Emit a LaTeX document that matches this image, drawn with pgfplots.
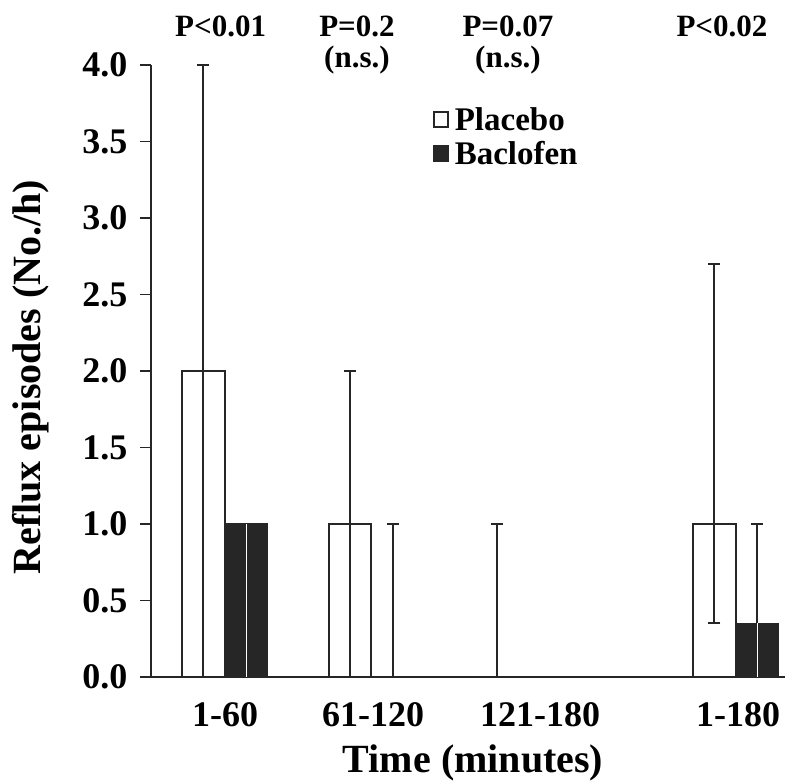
\documentclass[border=0pt]{standalone}
\usepackage{fontspec}
\setmainfont{Liberation Serif}
\usepackage{pgfplots}
\pgfplotsset{compat=1.18}
\begin{document}
\begin{tikzpicture}[x=1pt,y=1pt]
\useasboundingbox (-151,-107) rectangle (634,677);
\begin{axis}[
  at={(0pt,0pt)}, anchor=south west,
  scale only axis, width=634pt, height=612pt,
  xmin=-0.505, xmax=3.82, ymin=0, ymax=4,
  axis x line*=bottom, axis y line*=left,
  axis line style={line width=1.8pt, black!85},
  xtick={0,1.01,2.15,3.5}, xticklabels={1-60,61-120,121-180,1-180},
  x tick style={draw=none},
  ytick={0,0.5,...,4}, tick align=outside, major tick length=11pt,
  y tick style={line width=1.4pt, black!85},
  yticklabel style={xshift=-9pt, /pgf/number format/.cd, fixed, fixed zerofill, precision=1},
  xticklabel style={yshift=-11pt},
  tick label style={font=\fontsize{36}{40}\selectfont\bfseries},
  /pgf/number format/assume math mode=true,
  xlabel={Time (minutes)}, ylabel={Reflux episodes (No./h)},
  every axis x label/.style={at={(axis description cs:0.508,-0.1405)}, anchor=center},
  every axis y label/.style={at={(axis description cs:-0.189,0.49)}, rotate=90, anchor=center},
  label style={font=\fontsize{40}{44}\selectfont\bfseries},
  clip=false,
  legend style={at={(rel axis cs:0.44,0.935)}, anchor=north west, draw=none, fill=none,
    font=\fontsize{33}{36}\selectfont\bfseries, row sep=7pt,
    nodes={inner xsep=6pt, inner ysep=1pt}},
  legend cell align=left,
  legend image code/.code={\draw[#1, line width=1.6pt] (0pt,-7pt) rectangle (14pt,8pt);},
]
% Placebo (x = category - 0.147)
\addplot[ybar, bar width=0.29, bar shift=0, fill=white, draw=black!85, line width=1.8pt,
  error bars/.cd, y dir=both, y explicit,
  error bar style={line width=2pt, black!85},
  error mark options={rotate=90, black!85, mark size=6pt, line width=2pt}]
  coordinates {(-0.147,2) += (0,2) -= (0,2)
               (0.853,1) += (0,1) -= (0,1)
               (1.853,0) += (0,1) -= (0,0)
               (3.338,1) += (0,1.7) -= (0,0.65)};
\addlegendentry{Placebo}
% Baclofen (x = category + 0.147), white inner error line
\addplot[ybar, bar width=0.29, bar shift=0, fill=black!85, draw=black!85, line width=1.2pt,
  error bars/.cd, y dir=minus, y explicit, error mark=none,
  error bar style={line width=1.8pt, white}]
  coordinates {(0.147,1) -= (0,1)
               (1.147,0) -= (0,0)
               (2.147,0) -= (0,0)
               (3.632,0.35) -= (0,0.35)};
\addlegendentry{Baclofen}
% Baclofen upper error bars
\addplot[ybar, bar width=0.29, bar shift=0, draw=none, fill=none, forget plot,
  error bars/.cd, y dir=plus, y explicit,
  error bar style={line width=2pt, black!85},
  error mark options={rotate=90, black!85, mark size=6pt, line width=2pt}]
  coordinates {(1.147,0) += (0,1)
               (3.632,0.35) += (0,0.65)};
\node[inner sep=0pt, font=\fontsize{31}{34}\selectfont\bfseries] at (axis cs:-0.03,4.25) {P<0.01};
\node[inner sep=0pt, font=\fontsize{31}{34}\selectfont\bfseries] at (axis cs:0.90,4.25) {P=0.2};
\node[inner sep=0pt, font=\fontsize{31}{34}\selectfont\bfseries] at (axis cs:0.90,4.03) {(n.s.)};
\node[inner sep=0pt, font=\fontsize{31}{34}\selectfont\bfseries] at (axis cs:1.93,4.25) {P=0.07};
\node[inner sep=0pt, font=\fontsize{31}{34}\selectfont\bfseries] at (axis cs:1.93,4.03) {(n.s.)};
\node[inner sep=0pt, font=\fontsize{31}{34}\selectfont\bfseries] at (axis cs:3.39,4.25) {P<0.02};
\end{axis}
\end{tikzpicture}
\end{document}
